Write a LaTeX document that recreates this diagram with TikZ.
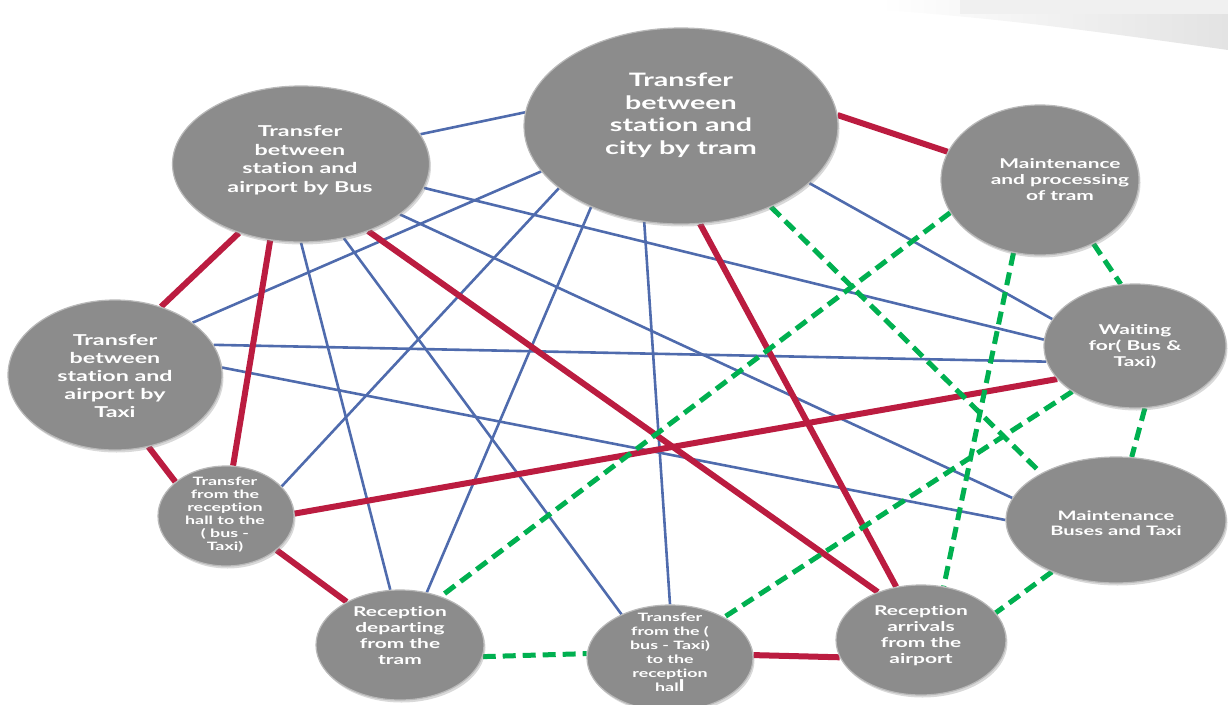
\documentclass[tikz,border=0pt]{standalone}
\usepackage{fontspec}
\setmainfont{Lato}[FakeStretch=1.55, Ligatures=NoCommon]
\usetikzlibrary{shapes.geometric,shadows}
\definecolor{nodegray}{RGB}{140,140,140}
\definecolor{nodeedge}{RGB}{185,185,185}
\definecolor{cred}{RGB}{187,28,64}
\definecolor{cblue}{RGB}{79,107,173}
\definecolor{cgreen}{RGB}{0,176,80}
\pgfdeclarelayer{bg}
\pgfsetlayers{bg,main}
\begin{document}
\begin{tikzpicture}[x=1pt,y=-1pt,
  bub/.style={ellipse, fill=nodegray, draw=nodeedge, line width=1.2pt, inner sep=0pt,
    drop shadow={opacity=0.3, shadow xshift=1.5pt, shadow yshift=-2.5pt}},
  txt/.style={text=white, align=center, inner sep=0pt},
  redl/.style={draw=cred, line width=6pt},
  bluel/.style={draw=cblue, line width=2.6pt},
  greenl/.style={draw=cgreen, line width=5pt, dash pattern=on 13pt off 7pt},
]
\useasboundingbox (0,0) rectangle (1228,704);
% top-right page decoration
\shade[left color=white, right color=gray!22] (880,0) -- (1228,0) -- (1228,50) .. controls (1100,32) and (1000,18) .. (880,10) -- cycle;
\fill[gray!12] (960,0) rectangle (1228,14);

% nodes
\node[bub, minimum width=314pt, minimum height=196pt] (tram) at (681,126) {};
\node[bub, minimum width=257pt, minimum height=156pt] (bus) at (301,164) {};
\node[bub, minimum width=198pt, minimum height=150pt] (mtram) at (1040,180) {};
\node[bub, minimum width=182pt, minimum height=124pt] (wait) at (1135,346) {};
\node[bub, minimum width=214pt, minimum height=150pt] (taxi) at (115,375) {};
\node[bub, minimum width=220pt, minimum height=126pt] (mbus) at (1116,520) {};
\node[bub, minimum width=136pt, minimum height=100pt] (hall) at (226,516) {};
\node[bub, minimum width=168pt, minimum height=110pt] (rdep) at (400,645) {};
\node[bub, minimum width=166pt, minimum height=106pt] (tnine) at (670,658) {};
\node[bub, minimum width=170pt, minimum height=110pt] (rarr) at (921,640) {};

% texts
\node[txt, font=\bfseries\fontsize{18.5}{22.5}\selectfont] (tramt) at (681,115) {Transfer\\between\\station and\\city by tram};
\node[txt, font=\bfseries\fontsize{15}{18.5}\selectfont] (bust) at (300,160) {Transfer\\between\\station and\\airport by Bus};
\node[txt, font=\bfseries\fontsize{13.5}{16}\selectfont] (mtramt) at (1060,180) {Maintenance\\and processing\\of tram};
\node[txt, font=\bfseries\fontsize{13.5}{16}\selectfont] (waitt) at (1135,347) {Waiting\\for( Bus \&\\Taxi)};
\node[txt, font=\bfseries\fontsize{15}{18}\selectfont] (taxit) at (115,376) {Transfer\\between\\station and\\airport by\\Taxi};
\node[txt, font=\bfseries\fontsize{13}{15.5}\selectfont] (mbust) at (1116,523) {Maintenance\\Buses and Taxi};
\node[txt, font=\bfseries\fontsize{11.5}{13}\selectfont] (hallt) at (225,515) {Transfer\\from the\\reception\\hall to the\\( bus -\\Taxi)};
\node[txt, font=\bfseries\fontsize{13.5}{16}\selectfont] (rdept) at (400,636) {Reception\\departing\\from the\\tram};
\node[txt, font=\bfseries\fontsize{11.5}{14}\selectfont] (tninet) at (670,652) {Transfer\\from the (\\bus - Taxi)\\to the\\reception\\hal{\fontsize{16}{14}\selectfont l}};
\node[txt, font=\bfseries\fontsize{13.5}{16}\selectfont] (rarrt) at (921,636) {Reception\\arrivals\\from the\\airport};

\begin{pgfonlayer}{bg}
% blue
\draw[bluel] (tram.175) -- (bus.14);
\draw[bluel] (tram.198) -- (taxi.34);
\draw[bluel] (tram.207) -- (hall.28);
\draw[bluel] (tram.222) -- (rdep.63);
\draw[bluel] (tram.249) -- (tnine.90);
\draw[bluel] (tram.336) -- (wait.162);
\draw[bluel] (bus.349) -- (wait.176);
\draw[bluel] (bus.333) -- (mbus.168);
\draw[bluel] (bus.270) -- (rdep.100);
\draw[bluel] (bus.300) -- (tnine.138);
\draw[bluel] (taxi.17) -- (wait.190);
\draw[bluel] (taxi.4) -- (mbus.180);
% red
\draw[redl] (tram.4) -- (mtram.163);
\draw[redl] (bus.228) -- (taxi.56);
\draw[redl] (bus.248) -- (hall.82);
\draw[redl] (bus.315) -- (rarr.132);
\draw[redl] (tram.281) -- (rarr.115);
\draw[redl] (hall.2) -- (wait.203);
\draw[redl] (taxi.295) -- (hall.146);
\draw[redl] (hall.326) -- (rdep.141);
\draw[redl] (tnine.2) -- (rarr.192);
% green
\draw[greenl] (tram.318) -- (mbus.148);
\draw[greenl] (mtram.310) -- (wait.103);
\draw[greenl] (mtram.200) -- (rdep.50);
\draw[greenl] (mtram.250) -- (rarr.67);
\draw[greenl] (wait.279) -- (mbus.76);
\draw[greenl] (wait.216) -- (tnine.37);
\draw[greenl] (mbus.219) -- (rarr.20);
\draw[greenl] (rdep.352) -- (tnine.177);
\end{pgfonlayer}
\end{tikzpicture}
\end{document}
